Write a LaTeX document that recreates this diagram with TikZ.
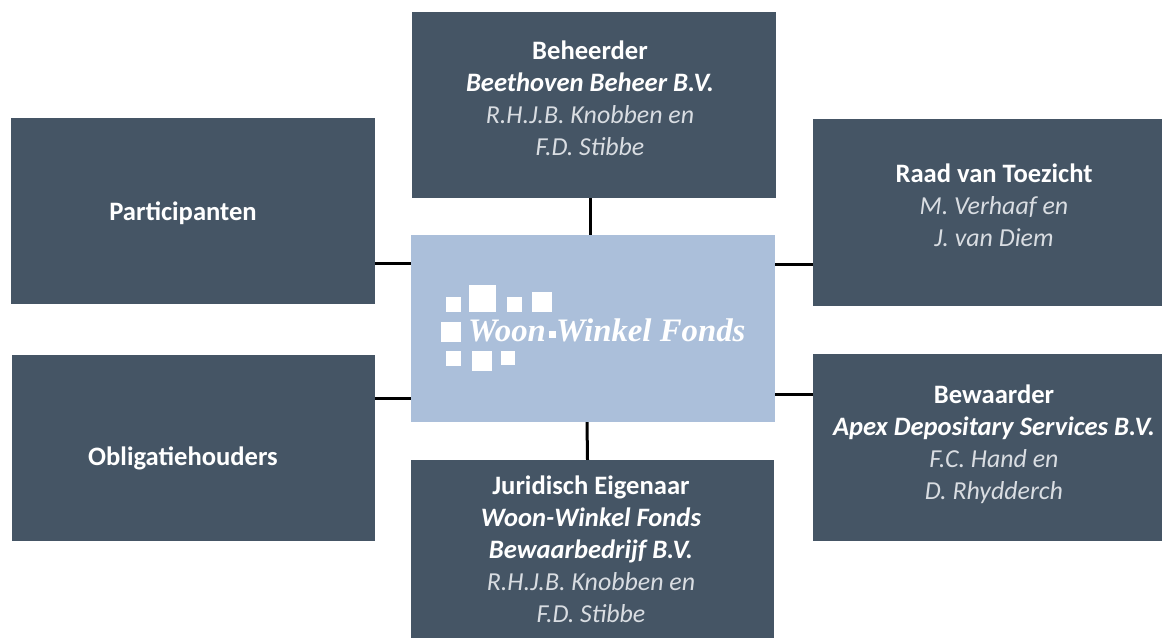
\documentclass[tikz,border=0pt]{standalone}
\usepackage{fontspec}
\setmainfont{Carlito}
\newfontfamily\logofont{Liberation Serif}
\definecolor{boxslate}{HTML}{455565}
\definecolor{fondsblue}{HTML}{ABBFDA}
\definecolor{lighttext}{HTML}{D9DDE2}
\pgfdeclarelayer{background}
\pgfdeclarelayer{foreground}
\pgfsetlayers{background,main,foreground}
\tikzset{
  orgbox/.style={draw=none,fill=boxslate,inner sep=0pt},
  orgtext/.style={text=white,align=center,inner sep=0pt,font=\fontsize{26.6}{32}\selectfont},
  link/.style={draw=black,line width=3pt},
  logosq/.style={fill=white,draw=none,inner sep=0pt},
  logotext/.style={anchor=base west,inner sep=0pt,text=white,font=\logofont\bfseries\itshape\fontsize{32.8}{32}\selectfont}
}
\newcommand{\rolename}[1]{{\bfseries #1}}
\newcommand{\firmname}[1]{{\bfseries\itshape #1}}
\newcommand{\personname}[1]{{\fontsize{25.9}{32}\selectfont\itshape\color{lighttext}#1}}
\begin{document}
\begin{tikzpicture}[x=1pt,y=-1pt]
\useasboundingbox (0,0) rectangle (1162,638);
\node[orgbox,minimum width=364pt,minimum height=186pt] (beheerder) at (594,105) {};
\node[orgbox,minimum width=364pt,minimum height=186pt] (participanten) at (193,211) {};
\node[orgbox,minimum width=349pt,minimum height=187pt] (toezicht) at (987.5,212.5) {};
\node[orgbox,minimum width=363pt,minimum height=186pt] (obligatie) at (193.5,448) {};
\node[orgbox,minimum width=349pt,minimum height=187pt] (bewaarder) at (987.5,447.5) {};
\node[orgbox,minimum width=363pt,minimum height=178pt] (juridisch) at (592.5,549) {};
\node[fill=fondsblue,inner sep=0pt,minimum width=364pt,minimum height=187pt] (fonds) at (593,328.5) {};
% box texts
\node[orgtext] (beheerdertext) at (590,98) {\rolename{Beheerder}\\\firmname{Beethoven Beheer B.V.}\\\personname{R.H.J.B. Knobben en}\\\personname{F.D. Stibbe}};
\node[orgtext] (participantentext) at (183,213) {\rolename{Participanten}};
\node[orgtext] (toezichttext) at (994,205) {\rolename{Raad van Toezicht}\\\personname{M. Verhaaf en}\\\personname{J. van Diem}};
\node[orgtext] (obligatietext) at (183,458) {\rolename{Obligatiehouders}};
\node[orgtext] (bewaardertext) at (994,444.5) {\rolename{Bewaarder}\\\firmname{Apex Depositary Services B.V.}\\\personname{F.C. Hand en}\\\personname{D. Rhydderch}};
\node[orgtext] (juridischtext) at (591,549.5) {\rolename{Juridisch Eigenaar}\\\firmname{Woon-Winkel Fonds}\\\firmname{Bewaarbedrijf B.V.}\\\personname{R.H.J.B. Knobben en}\\\personname{F.D. Stibbe}};
% connectors
\begin{pgfonlayer}{background}
\draw[link] ([xshift=-4pt]beheerder.south) -- ([xshift=-3pt]fonds.north); %top
\draw[link] ([xshift=-6pt]fonds.south) -- ([xshift=-5pt]juridisch.north); %bottom
\draw[link] ([yshift=-52pt]participanten.east) -- ([yshift=65.5pt]fonds.west); %left upper
\draw[link] ([yshift=50pt]obligatie.east) -- ([yshift=-69.5pt]fonds.west); %left lower
\draw[link] ([yshift=-51.5pt]toezicht.west) -- ([yshift=64.5pt]fonds.east); %right upper
\draw[link] ([yshift=53.5pt]bewaarder.west) -- ([yshift=-65.5pt]fonds.east); %right lower
\end{pgfonlayer}
% logo
\node[logosq,minimum size=14.7pt] (sqa) at (453.3,304.3) {};
\node[logosq,minimum size=26.7pt] (sqb) at (482.7,298.3) {};
\node[logosq,minimum size=14.5pt] (sqc) at (514.5,304.3) {};
\node[logosq,minimum size=19.7pt] (sqd) at (542.2,301.8) {};
\node[logosq,minimum size=20pt] (sqe) at (451,332.3) {};
\node[logosq,minimum size=14.8pt] (sqf) at (453.5,358.8) {};
\node[logosq,minimum size=20pt] (sqg) at (482,361.3) {};
\node[logosq,minimum size=14pt] (sqh) at (507.7,358) {};
\node[logosq,minimum width=6.7pt,minimum height=7.6pt] (sqdash) at (552.3,334.5) {};
\node[logotext] (logoone) at (468,341) {Woon};
\node[logotext] (logotwo) at (556,341) {Winkel Fonds};
\end{tikzpicture}
\end{document}
